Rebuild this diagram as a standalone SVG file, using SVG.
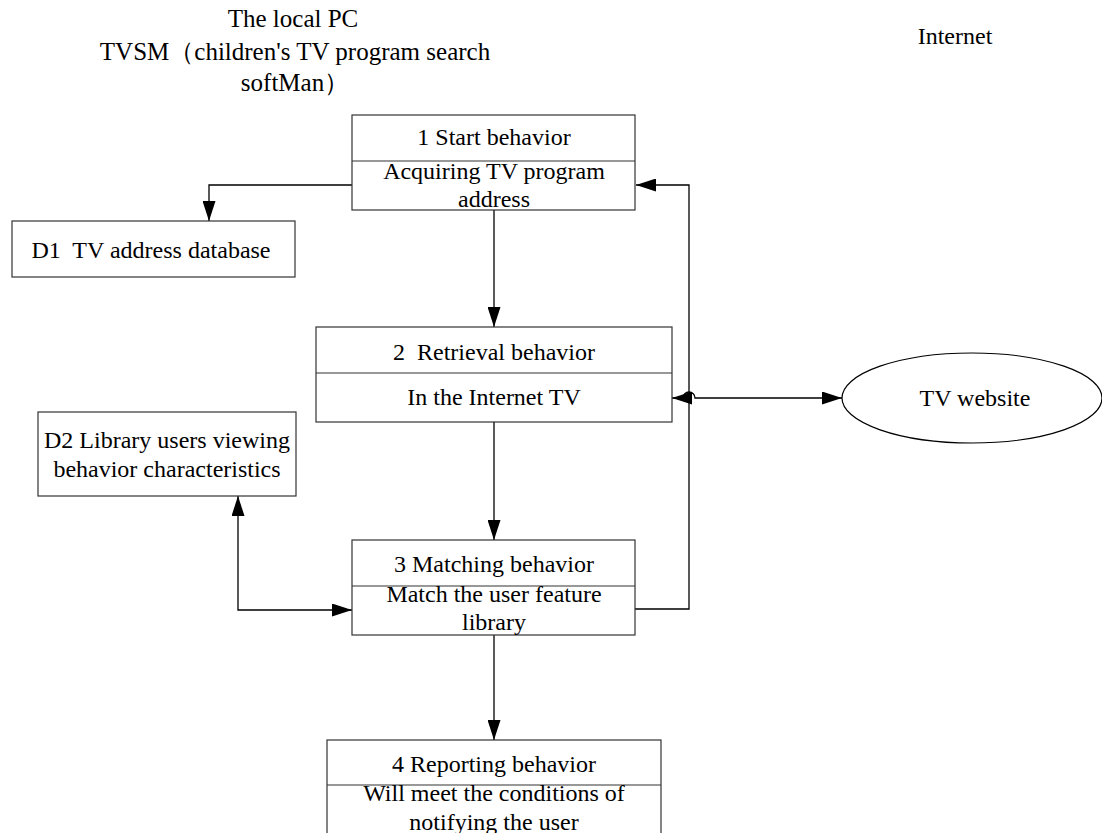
<svg xmlns="http://www.w3.org/2000/svg" width="1102" height="833" viewBox="0 0 1102 833">
<style>
text{font-family:"Liberation Serif","Times New Roman",serif;font-size:24px;fill:#000;text-anchor:middle;white-space:pre}
.hd{font-size:25px}
.box{fill:#fff;stroke:#333;stroke-width:1.2}
.div{stroke:#333;stroke-width:1.2}
.c{fill:none;stroke:#000;stroke-width:1.3}
</style>
<defs>
<marker id="ah" markerUnits="userSpaceOnUse" markerWidth="20" markerHeight="13" refX="20" refY="6.5" orient="auto-start-reverse" viewBox="0 0 20 13">
<path d="M0,0 L20,6.5 L0,13 z" fill="#000"/>
</marker>
</defs>
<rect width="1102" height="833" fill="#fff"/>
<g id="header">
<text class="hd" x="293" y="27">The local PC</text>
<text class="hd" x="295" y="60">TVSM（children's TV program search</text>
<text class="hd" x="295" y="91">softMan）</text>
<text x="955" y="44">Internet</text>
</g>
<g id="connectors">
<polyline class="c" points="352,185 209,185 209,221" marker-end="url(#ah)"/>
<line class="c" x1="494" y1="210" x2="494" y2="327" marker-end="url(#ah)"/>
<line class="c" x1="494" y1="422" x2="494" y2="540" marker-end="url(#ah)"/>
<line class="c" x1="494" y1="635" x2="494" y2="740" marker-end="url(#ah)"/>
<polyline class="c" points="635,609 689,609 689,185 636,185" marker-end="url(#ah)"/>
<path class="c" d="M672,398 L683,398 A6,6 0 0 1 695,398 L842,398" marker-start="url(#ah)" marker-end="url(#ah)"/>
<polyline class="c" points="238,496 238,610 352,610" marker-start="url(#ah)" marker-end="url(#ah)"/>
</g>
<g id="node1">
<rect class="box" x="352" y="115" width="283" height="95"/>
<line class="div" x1="352" y1="161" x2="635" y2="161"/>
<text x="494" y="145">1 Start behavior</text>
<text x="494" y="179">Acquiring TV program</text>
<text x="494" y="207">address</text>
</g>
<g id="d1">
<rect class="box" x="12" y="221" width="283" height="56"/>
<text x="151" y="258">D1  TV address database</text>
</g>
<g id="node2">
<rect class="box" x="316" y="327" width="356" height="95"/>
<line class="div" x1="316" y1="373" x2="672" y2="373"/>
<text x="494" y="360">2  Retrieval behavior</text>
<text x="494" y="405">In the Internet TV</text>
</g>
<g id="website">
<ellipse cx="972" cy="398" rx="130" ry="45" fill="#fff" stroke="#000" stroke-width="1.2"/>
<text x="975" y="406">TV website</text>
</g>
<g id="d2">
<rect class="box" x="38" y="412" width="258" height="84"/>
<text x="167" y="448">D2 Library users viewing</text>
<text x="167" y="477">behavior characteristics</text>
</g>
<g id="node3">
<rect class="box" x="352" y="540" width="283" height="95"/>
<line class="div" x1="352" y1="586" x2="635" y2="586"/>
<text x="494" y="572">3 Matching behavior</text>
<text x="494" y="602">Match the user feature</text>
<text x="494" y="630">library</text>
</g>
<g id="node4">
<rect class="box" x="327" y="740" width="334" height="110"/>
<line class="div" x1="327" y1="785" x2="661" y2="785"/>
<text x="494" y="772">4 Reporting behavior</text>
<text x="494" y="801">Will meet the conditions of</text>
<text x="494" y="830">notifying the user</text>
</g>
</svg>
